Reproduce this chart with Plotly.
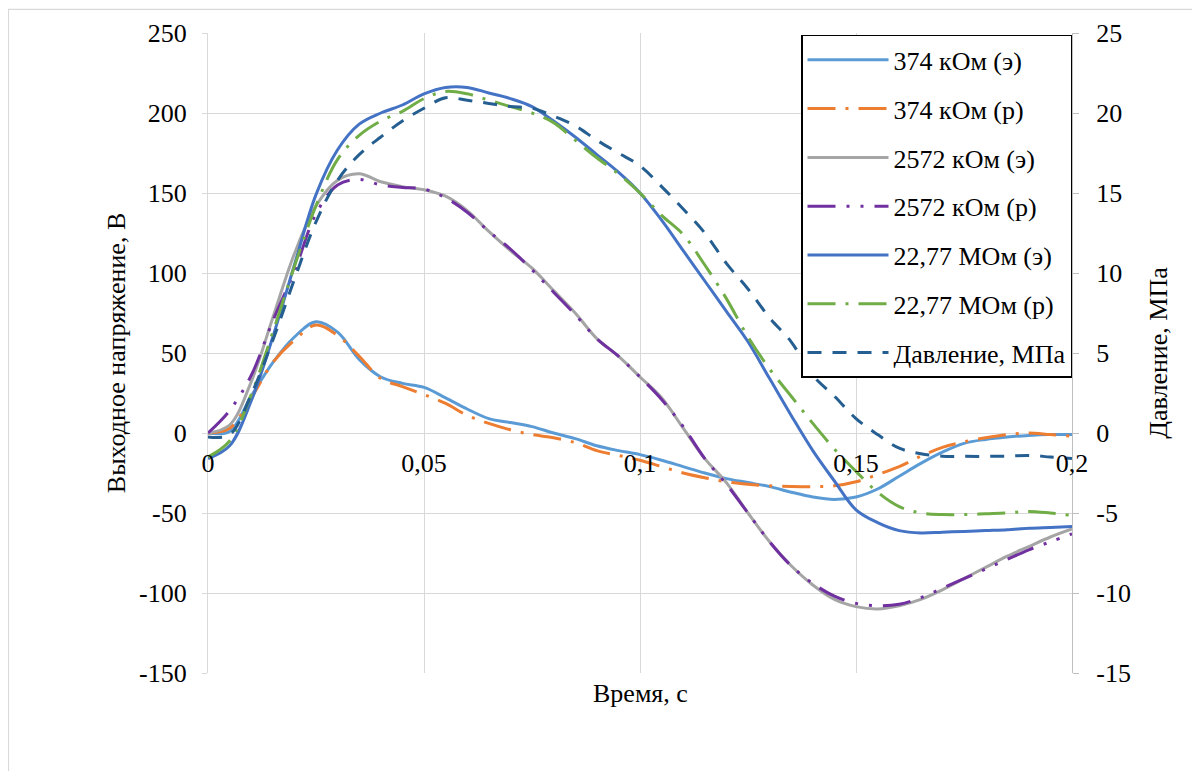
import plotly.graph_objects as go

# time grid, s
time_s = [0.000, 0.005, 0.010, 0.015, 0.020, 0.025, 0.030, 0.035, 0.040, 0.045,
          0.050, 0.055, 0.060, 0.065, 0.070, 0.075, 0.080, 0.085, 0.090, 0.095,
          0.100, 0.105, 0.110, 0.115, 0.120, 0.125, 0.130, 0.135, 0.140, 0.145,
          0.150, 0.155, 0.160, 0.165, 0.170, 0.175, 0.180, 0.185, 0.190, 0.195, 0.200]

# output voltage, V
v374_e = [0, 1, 23, 44, 60, 69.5, 63, 46, 35, 31,
          28.5, 22, 15, 9, 6.5, 4, 0, -3.5, -8, -11,
          -13.5, -17, -21, -25, -28.5, -31, -33.5, -37, -40, -41.5,
          -40, -35, -27, -19, -12, -6.5, -4, -2.5, -1.5, -1, -1]
v374_r = [0, 3, 22, 44, 58, 67.5, 61, 48, 34, 29,
          24, 18.5, 11, 6, 2, -1, -3, -6, -11, -14,
          -17, -21, -25, -28, -30.5, -32, -33, -33.5, -33.5, -33,
          -30.5, -26, -21, -14.5, -9, -5.5, -3, -1, 0, -1, -2]
v2572_e = [0, 5, 32, 72, 112, 142, 158, 162, 157, 154,
           152, 148, 139, 126, 114, 103, 89, 75, 59, 48,
           35, 22, 3, -16, -31, -50, -68, -83, -95, -104,
           -108.5, -110, -108, -104, -98, -91, -84, -77, -71, -65, -60]
v2572_r = [0, 14, 36, 70, 101, 137, 155, 158.5, 155, 153.5,
           152.5, 147, 138, 126, 115, 102, 88, 74, 59, 48,
           35, 21, 4, -16, -32, -50, -68, -83, -94, -102,
           -106.5, -108, -107, -103, -97, -91, -85, -79, -73, -68, -63]
v2277_e = [-16, -8, 20, 60, 105, 149, 177, 193, 200, 205,
           212, 216, 216, 212.5, 209, 204, 195, 185, 174, 163,
           150, 133, 114, 95, 76, 57, 34, 11, -11, -30,
           -48, -56, -61, -62.5, -62, -61.5, -61, -60.5, -59.5, -59, -58.5]
v2277_r = [-15, -5, 24, 63, 104, 142, 171, 186, 195, 201,
           209, 213.5, 212, 208, 204, 200, 194, 183, 172, 162,
           150, 136, 124, 105, 84, 60, 40, 23, 6, -10,
           -24, -37, -46, -50, -51, -51, -50.5, -50, -49, -50, -51.5]
# pressure, MPa
pressure = [-0.25, -0.1, 2.4, 5.8, 9.6, 13.2, 15.8, 17.4, 18.5, 19.5,
            20.3, 20.95, 20.8, 20.6, 20.4, 20.3, 19.8, 19.2, 18.3, 17.5,
            16.7, 15.4, 14.0, 12.5, 10.6, 9.0, 7.2, 5.7, 3.6, 2.3,
            0.9, -0.1, -0.95, -1.3, -1.45, -1.46, -1.46, -1.45, -1.4, -1.5, -1.6]

names = ["374 кОм (э)", "374 кОм (р)", "2572 кОм (э)", "2572 кОм (р)",
         "22,77 МОм (э)", "22,77 МОм (р)", "Давление, МПа"]
colors = ["#5B9BD5", "#ED7D31", "#A5A5A5", "#7030A0", "#4472C4", "#70AD47", "#255E91"]
dashes = ["solid", "28px,10px,3px,10px", "solid", "28px,11px,3px,11px,3px,11px",
          "solid", "28px,10px,3px,10px", "14px,11px"]

x_tickvals = [0, 0.05, 0.1, 0.15, 0.2]
x_ticktext = ["0", "0,05", "0,1", "0,15", "0,2"]
y_tickvals = [-150, -100, -50, 0, 50, 100, 150, 200, 250]
y_ticktext = ["-150", "-100", "-50", "0", "50", "100", "150", "200", "250"]
y2_tickvals = [-15, -10, -5, 0, 5, 10, 15, 20, 25]
y2_ticktext = ["-15", "-10", "-5", "0", "5", "10", "15", "20", "25"]

FONT = "Liberation Serif"
FS = 26
GRID = "#D9D9D9"
TF = dict(family=FONT, size=FS, color="black")

fig = go.Figure()
series = [v374_e, v374_r, v2572_e, v2572_r, v2277_e, v2277_r]
for i, ys in enumerate(series):
    fig.add_trace(go.Scatter(
        x=time_s, y=ys, mode="lines", name=names[i], legendgroup=names[i],
        line=dict(color=colors[i], width=3, dash=dashes[i], shape="spline", smoothing=1.0),
    ))
fig.add_trace(go.Scatter(
    x=time_s, y=pressure, mode="lines", name=names[6], legendgroup=names[6], yaxis="y2",
    line=dict(color=colors[6], width=3, dash=dashes[6], shape="spline", smoothing=1.0),
))

fig.update_layout(
    width=1200, height=771,
    margin=dict(l=200, r=136, t=25, b=106),
    paper_bgcolor="white", plot_bgcolor="white",
    font=TF,
    xaxis=dict(
        range=[0, 0.2], tickvals=x_tickvals, ticktext=x_ticktext, tickfont=TF,
        showgrid=True, gridcolor=GRID, gridwidth=1.3, zeroline=False,
        showline=False, ticks="", anchor="free", position=0.375,
        ticklabelstandoff=12,
    ),
    yaxis=dict(
        range=[-150, 250], tickvals=y_tickvals, ticktext=y_ticktext, tickfont=TF,
        showgrid=True, gridcolor=GRID, gridwidth=1.3, zeroline=False,
        showline=True, linecolor=GRID, linewidth=1.3,
        ticks="outside", ticklen=5, tickcolor=GRID, ticklabelstandoff=10,
        title=dict(text="Выходное напряжение, В", standoff=5, font=TF),
    ),
    yaxis2=dict(
        range=[-15, 25], tickvals=y2_tickvals, ticktext=y2_ticktext, tickfont=TF,
        overlaying="y", side="right", showgrid=False, zeroline=False,
        showline=True, linecolor="#BFBFBF", linewidth=1.3,
        ticks="outside", ticklen=6, tickcolor="#BFBFBF", ticklabelstandoff=12,
        title=dict(text="Давление, МПа", standoff=18, font=TF),
    ),
    legend=dict(
        x=1, xanchor="right", y=0.997, yanchor="top",
        bgcolor="white", bordercolor="black", borderwidth=1.5,
        itemwidth=81, tracegroupgap=12, traceorder="grouped",
        font=TF,
    ),
    annotations=[dict(
        text="Время, с", xref="paper", yref="paper", x=0.5, y=-0.0327,
        xanchor="center", yanchor="middle", showarrow=False, font=TF,
    )],
    shapes=[dict(
        type="rect", xref="paper", yref="paper",
        x0=-0.231, x1=1.5, y0=-0.5, y1=1.037,
        line=dict(color="#D9D9D9", width=1.3), layer="below",
    )],
)

fig.write_html("out.html")
